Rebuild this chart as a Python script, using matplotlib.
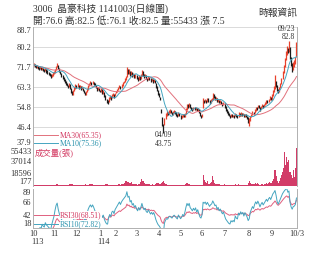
import numpy as np
import pandas as pd
import matplotlib
matplotlib.use("Agg")
import matplotlib.pyplot as plt
import matplotlib.transforms as mtransforms

plt.rcParams['font.family'] = ['Liberation Serif', 'Noto Sans CJK TC']

# daily bars, 2024/10/01 .. 2025/10/03 (trading days)
close = [
    72.8, 72.4, 71.9, 72.3, 71.5, 71.0, 71.6, 70.9, 71.4, 70.7, 70.3, 70.8, 70.0, 69.6, 69.0, 68.5, 67.8, 68.4, 68.9,  # Oct
    69.5, 70.6, 71.8, 72.5, 71.2, 70.0, 69.1, 68.0, 67.2, 66.3, 65.8, 64.9, 64.2, 63.4, 64.5, 62.8, 61.5, 60.3, 61.6, 62.9, 63.8,  # Nov
    63.5, 64.2, 63.0, 63.8, 62.6, 63.3, 62.1, 61.2, 60.4, 61.0, 62.4, 63.6, 64.5, 65.2, 64.6, 65.4, 64.8, 64.0, 63.2, 62.0, 62.8, 61.9,  # Dec
    61.5, 62.3, 60.8, 61.4, 59.6, 58.2, 57.0, 56.8, 58.5, 59.3, 58.4, 59.8, 60.1, 59.2, 60.5,  # Jan
    61.2, 62.0, 62.8, 63.5, 62.9, 64.0, 64.8, 65.5, 66.3, 67.2, 70.8, 69.4, 70.2, 68.6, 69.5, 68.1, 68.8, 67.6, 68.3,  # Feb
    67.2, 66.5, 67.8, 66.9, 68.0, 69.8, 68.5, 67.6, 68.2, 67.0, 66.6, 67.5, 66.8, 66.0, 66.5, 65.8, 66.3, 65.2, 63.5, 62.0, 60.5,  # Mar
    59.5, 58.0, 52.2, 47.5, 45.6, 50.0, 51.5, 52.3, 51.8, 52.8, 53.2, 52.5, 51.9, 52.6, 53.0, 52.4, 51.6, 51.0, 52.2, 51.3,  # Apr
    50.4, 50.8, 51.6, 50.9, 52.0, 53.8, 55.6, 54.9, 56.0, 54.6, 54.1, 53.5, 54.4, 53.8, 54.6, 53.2, 54.0, 52.6, 51.2, 50.6,  # May
    51.5, 57.4, 57.0, 57.8, 56.9, 58.2, 57.5, 56.8, 57.6, 58.0, 59.6, 59.0, 58.2, 58.5, 57.2, 57.9, 56.8, 57.4, 56.5, 55.8, 56.3,  # Jun
    55.0, 53.6, 52.8, 52.0, 51.2, 50.8, 51.5, 50.9, 51.2, 50.6, 51.8, 51.0, 50.7, 52.0, 51.4, 52.2, 51.5, 51.9, 50.8, 51.6, 50.9, 50.2, 48.8,  # Jul
    49.2, 50.8, 51.6, 52.5, 52.0, 53.4, 54.5, 54.0, 55.2, 54.6, 53.8, 54.8, 55.5, 54.9, 55.6, 56.4, 57.2, 56.8, 57.9, 58.6, 58.2,  # Aug
    59.6, 61.5, 62.8, 65.0, 63.9, 62.2, 61.4, 62.8, 64.5, 66.8, 69.5, 72.0, 74.8, 77.6, 79.5, 78.2, 80.8, 75.5, 72.6, 71.0, 73.2,  # Sep
    73.6, 75.0, 82.5,  # Oct
]
high = [
    73.6, 73.2, 72.6, 72.8, 72.4, 71.8, 72.0, 71.7, 71.9, 71.5, 71.0, 71.3, 70.9, 70.4, 69.8, 69.4, 68.7, 68.9, 69.5,
    70.0, 71.0, 72.4, 73.4, 72.6, 71.3, 70.2, 69.2, 68.3, 67.4, 66.8, 66.0, 65.1, 64.3, 65.2, 64.6, 62.9, 61.4, 62.2, 63.4, 64.5,
    64.3, 64.8, 64.0, 64.2, 63.6, 63.8, 63.0, 62.0, 61.3, 61.5, 62.9, 64.1, 65.0, 65.9, 65.5, 66.0, 65.6, 64.9, 64.1, 63.3, 63.4, 62.9,
    62.2, 62.8, 62.4, 61.9, 61.2, 59.8, 58.4, 57.6, 59.0, 59.8, 59.4, 60.2, 60.6, 60.3, 60.9,
    61.8, 62.5, 63.4, 64.1, 63.9, 64.5, 65.3, 66.0, 67.0, 68.0, 71.8, 71.0, 70.9, 70.0, 70.1, 69.6, 69.4, 68.8, 68.9,
    68.4, 67.5, 68.2, 68.0, 68.6, 70.5, 70.1, 68.6, 68.8, 68.4, 67.3, 67.9, 67.7, 67.0, 67.0, 66.7, 66.8, 66.2, 65.0, 63.6, 62.1,
    60.6, 59.2, 54.0, 50.5, 47.6, 50.2, 52.2, 53.0, 52.9, 53.4, 53.8, 53.5, 52.8, 53.0, 53.6, 53.3, 52.6, 51.8, 52.7, 52.4,
    51.5, 51.3, 52.0, 51.8, 52.5, 54.3, 56.2, 56.3, 56.6, 55.9, 55.0, 54.4, 54.8, 54.7, 55.0, 54.5, 54.3, 53.9, 52.7, 51.4,
    52.0, 58.6, 58.0, 58.4, 58.0, 58.7, 58.6, 57.6, 58.1, 58.5, 60.9, 60.2, 59.3, 59.0, 58.6, 58.3, 58.0, 57.9, 57.5, 56.7, 56.8,
    56.4, 55.2, 53.9, 53.0, 52.2, 51.6, 51.9, 51.7, 51.6, 51.3, 52.5, 52.0, 51.4, 52.6, 52.3, 52.6, 52.3, 52.4, 51.9, 52.0, 51.8, 51.1, 50.4,
    50.0, 51.2, 52.0, 53.0, 52.9, 53.8, 54.9, 54.8, 55.7, 55.6, 54.7, 55.2, 56.0, 55.8, 56.0, 57.0, 57.8, 57.6, 58.4, 59.3, 59.0,
    60.2, 62.0, 63.9, 68.4, 66.0, 64.2, 62.5, 63.3, 65.0, 67.2, 70.0, 72.6, 75.5, 78.5, 80.6, 80.0, 82.8, 80.4, 76.2, 73.6, 74.0,
    74.8, 76.2, 82.5,
]
low = [
    72.0, 71.8, 71.2, 71.5, 71.0, 70.4, 70.8, 70.3, 70.6, 70.2, 69.8, 70.0, 69.4, 68.9, 68.4, 67.9, 67.1, 67.6, 68.1,
    68.8, 69.3, 70.4, 71.6, 70.8, 69.6, 68.6, 67.5, 66.6, 65.7, 65.1, 64.3, 63.6, 62.7, 63.3, 62.4, 60.9, 59.8, 60.1, 61.5, 62.6,
    62.9, 63.4, 62.6, 62.8, 62.0, 62.5, 61.7, 60.7, 59.8, 60.1, 61.0, 62.2, 63.8, 64.5, 64.0, 64.6, 64.2, 63.6, 62.7, 61.6, 61.9, 61.4,
    61.0, 61.2, 60.3, 60.5, 59.2, 57.7, 56.6, 56.1, 56.9, 58.4, 57.9, 58.5, 59.5, 58.8, 59.4,
    60.6, 61.1, 61.9, 62.7, 62.4, 63.0, 63.9, 64.8, 65.4, 66.2, 67.4, 68.8, 69.0, 68.1, 68.4, 67.6, 67.9, 67.1, 67.3,
    66.8, 65.9, 66.3, 66.4, 66.7, 67.9, 68.0, 67.1, 67.4, 66.5, 66.0, 66.4, 66.2, 65.5, 65.7, 65.2, 65.6, 64.8, 63.0, 61.5, 60.0,
    59.0, 57.6, 52.2, 47.0, 43.75, 47.2, 49.8, 51.2, 51.4, 51.7, 52.4, 52.1, 51.3, 51.5, 52.3, 52.0, 51.2, 50.5, 50.9, 51.0,
    49.9, 50.0, 50.6, 50.4, 50.8, 52.0, 53.6, 54.4, 54.7, 54.2, 53.6, 53.1, 53.4, 53.4, 53.7, 53.0, 53.1, 52.3, 50.9, 50.1,
    50.4, 54.3, 56.5, 56.8, 56.5, 57.0, 57.1, 56.3, 56.7, 57.4, 57.8, 58.6, 57.9, 57.9, 56.8, 57.0, 56.4, 56.5, 56.1, 55.3, 55.6,
    54.6, 53.2, 52.4, 51.6, 50.9, 50.3, 50.6, 50.5, 50.6, 50.2, 50.9, 50.6, 50.2, 50.6, 51.0, 51.2, 51.1, 51.3, 50.4, 50.6, 50.5, 49.8, 48.2,
    47.0, 49.0, 50.5, 51.3, 51.6, 52.1, 53.3, 53.6, 54.2, 54.2, 53.3, 53.9, 54.7, 54.5, 55.0, 55.6, 56.3, 56.4, 56.9, 57.6, 57.7,
    58.0, 59.3, 61.0, 62.4, 63.2, 61.8, 60.8, 61.2, 62.8, 64.6, 66.6, 69.3, 71.8, 74.6, 77.0, 77.5, 78.0, 75.0, 72.0, 69.8, 70.6,
    71.9, 73.0, 76.1,
]
volume = [
    2100, 1500, 1300, 1800, 1200, 1400, 1100, 1600, 1300, 1200, 1000, 1500, 1100, 1300, 1800, 1400, 2200, 1600, 1200,
    1500, 1900, 2600, 3800, 2200, 1800, 1500, 1700, 1400, 1600, 1300, 1800, 1500, 2100, 1700, 2400, 3000, 2800, 1900, 1600, 1500,
    1400, 1700, 1300, 1500, 1600, 1200, 1800, 2200, 2600, 1900, 1700, 2100, 2400, 3200, 2500, 2900, 1800, 1600, 1500, 2200, 1400, 1300,
    1500, 1800, 2000, 1400, 2300, 2600, 2800, 2400, 2000, 1500, 1300, 1600, 1200, 1100, 1400,
    2200, 1900, 2500, 2800, 2100, 3200, 3600, 3000, 5200, 6800, 7200, 5600, 4100, 4800, 5600, 3800, 3200, 2600, 2400,
    2600, 2200, 3400, 2800, 6200, 11000, 7400, 4200, 3500, 2900, 2400, 3100, 2600, 2200, 2000, 2400, 1800, 2100, 3400, 3900, 4100,
    3200, 2800, 4500, 5600, 6800, 5200, 3400, 2600, 2100, 1900, 2300, 1800, 1600, 2000, 1700, 1500, 1800, 1400, 2200, 1600,
    1500, 1300, 1800, 1600, 2200, 3100, 4200, 2600, 3000, 2200, 1800, 1600, 1900, 1500, 1700, 1400, 1600, 1800, 2300, 1900,
    2000, 15600, 9200, 5400, 4100, 6800, 3800, 2900, 4600, 5800, 15200, 8600, 4200, 3600, 2800, 2400, 2600, 2200, 1900, 2100, 1800,
    2600, 2200, 2000, 1800, 1600, 1500, 1700, 1400, 1600, 1300, 2400, 1700, 1500, 2800, 1900, 2200, 1600, 1800, 1500, 1700, 1400, 1900, 4200,
    7800, 4200, 3100, 3600, 2400, 3300, 4400, 2800, 3900, 2600, 2100, 2500, 3000, 2200, 2600, 3400, 4000, 2800, 4600, 5300, 3900,
    5200, 7400, 9800, 24000, 14500, 7400, 5200, 6800, 11200, 16400, 20800, 26500, 49000, 31200, 42000, 35000, 38500, 20200, 15800, 11600, 24000,
    13400, 26600, 55433,
]

month_labels = ['10', '11', '12', '1', '2', '3', '4', '5', '6', '7', '8', '9', '10/3']
month_pos = [0, 19, 40, 62, 77, 96, 117, 137, 157, 178, 201, 222, 245]
year_labels = {0: '113', 62: '114'}
price_ticks = [37.9, 46.4, 54.8, 63.3, 71.7, 80.2, 88.7]
vol_ticks = [177, 18596, 37014, 55433]
rsi_ticks = [18, 42, 66, 89]

RED = '#e8412c'
PINK = '#d2365f'
TEAL = '#2c93ad'
GREY = '#333333'

c = pd.Series(close)
n = len(close)
x = np.arange(n)
ma10 = c.rolling(10, min_periods=1).mean()
ma30 = c.rolling(30, min_periods=1).mean()


def rsi(s, k):
    d = s.diff()
    g = d.clip(lower=0).ewm(alpha=1 / k, adjust=False).mean()
    l = (-d.clip(upper=0)).ewm(alpha=1 / k, adjust=False).mean()
    return 100 * g / (g + l)


rsi10 = rsi(c, 10)
rsi30 = rsi(c, 30)

W, H = 330, 254
fig = plt.figure(figsize=(W / 100, H / 100), dpi=100)


def box(l, t, r, b):
    return [l / W, 1 - b / H, (r - l) / W, (b - t) / H]


ax1 = fig.add_axes(box(33, 27, 297, 147))
ax2 = fig.add_axes(box(33, 148, 297, 186))
ax3 = fig.add_axes(box(33, 189, 297, 228))

for ax in (ax1, ax2, ax3):
    ax.set_xlim(-0.5, n - 0.5)
    ax.set_xticks([])
    ax.tick_params(axis='y', length=0, pad=1.2, labelsize=6, labelcolor=GREY)
    for s in ('top', 'bottom'):
        ax.spines[s].set_visible(False)
    for s in ('left', 'right'):
        ax.spines[s].set_color('#b0b0b0')
        ax.spines[s].set_linewidth(0.7)


def edge_labels(ax):
    labs = ax.get_yticklabels()
    labs[0].set_va('bottom')
    labs[-1].set_va('top')


def legend_row(ax, yy, txt, lc, tc):
    ax.plot([0.004, 0.095], [yy, yy], transform=ax.transAxes, color=lc, lw=0.7, zorder=5)
    ax.text(0.102, yy, txt, transform=ax.transAxes, va='center', fontsize=5.5, color=tc, zorder=6,
            bbox=dict(facecolor='white', edgecolor='none', pad=0.3))


# price panel
ax1.set_ylim(price_ticks[0], price_ticks[-1])
ax1.set_yticks(price_ticks, [f'{t:.1f}' for t in price_ticks])
edge_labels(ax1)
ax1.grid(axis='y', color='#d4d4d4', lw=0.6)
ax1.set_axisbelow(True)
up = [True] + [close[i] >= close[i - 1] for i in range(1, n)]
cols = [RED if u else '#1a1a1a' for u in up]
ax1.vlines(x, low, high, colors=cols, lw=0.9)
ax1.plot(x, ma30, color='#e2717c', lw=0.7)
ax1.plot(x, ma10, color='#45a5c0', lw=0.7)

bt = mtransforms.blended_transform_factory(ax1.transData, ax1.transAxes)
ipk = int(np.argmax(high))
ilo = int(np.argmin(low))
ax1.text(ipk + 5.7, 0.985, '09/23', transform=bt, ha='right', va='center', fontsize=5.5, color=GREY)
ax1.text(ipk + 5.7, 0.918, f'{high[ipk]:.1f}', transform=bt, ha='right', va='center', fontsize=5.5, color=GREY)
ax1.text(ilo, 0.096, '04/09', transform=bt, ha='center', va='center', fontsize=5.5, color=GREY)
ax1.text(ilo, 0.029, f'{low[ilo]:.2f}', transform=bt, ha='center', va='center', fontsize=5.5, color=GREY)

legend_row(ax1, 0.100, 'MA30(65.35)', '#e2717c', PINK)
legend_row(ax1, 0.033, 'MA10(75.36)', '#45a5c0', TEAL)

# volume panel
ax2.set_ylim(vol_ticks[0], vol_ticks[-1])
ax2.set_yticks(vol_ticks, [str(t) for t in vol_ticks])
edge_labels(ax2)
ax2.bar(x, volume, width=1.0, color='#d23c68', linewidth=0)
ax2.text(0.008, 0.88, '成交量(張)', transform=ax2.transAxes, va='center', fontsize=6, color=PINK)

# rsi panel
ax3.set_ylim(rsi_ticks[0], rsi_ticks[-1])
ax3.set_yticks(rsi_ticks, [str(t) for t in rsi_ticks])
edge_labels(ax3)
ax3.spines['bottom'].set_visible(True)
ax3.spines['bottom'].set_color('#b0b0b0')
ax3.spines['bottom'].set_linewidth(0.7)
ax3.plot(x, rsi30, color='#e0607e', lw=0.7)
ax3.plot(x, rsi10, color='#45a5c0', lw=0.7)
legend_row(ax3, 0.333, 'RSI30(68.51)', '#e0607e', PINK)
legend_row(ax3, 0.10, 'RSI10(72.82)', '#45a5c0', TEAL)

ax3.set_xticks(month_pos, month_labels)
ax3.tick_params(axis='x', length=0, pad=1.5, labelsize=6, labelcolor=GREY)
bt3 = mtransforms.blended_transform_factory(ax3.transData, ax3.transAxes)
for p, lab in year_labels.items():
    ax3.text(p - 2.4, -0.36, lab, transform=bt3, ha='left', va='center', fontsize=6, color=GREY)

# header
fig.text(33 / W, 1 - 9 / H, '3006  晶豪科技 1141003(日線圖)', fontsize=7, va='center', color=GREY)
fig.text(33 / W, 1 - 21 / H, '開:76.6 高:82.5 低:76.1 收:82.5 量:55433 漲 7.5', fontsize=7, va='center', color=GREY)
fig.text(297 / W, 1 - 13 / H, '時報資訊', fontsize=7, va='center', ha='right', color=GREY)

fig.savefig('out.png', dpi=100)
